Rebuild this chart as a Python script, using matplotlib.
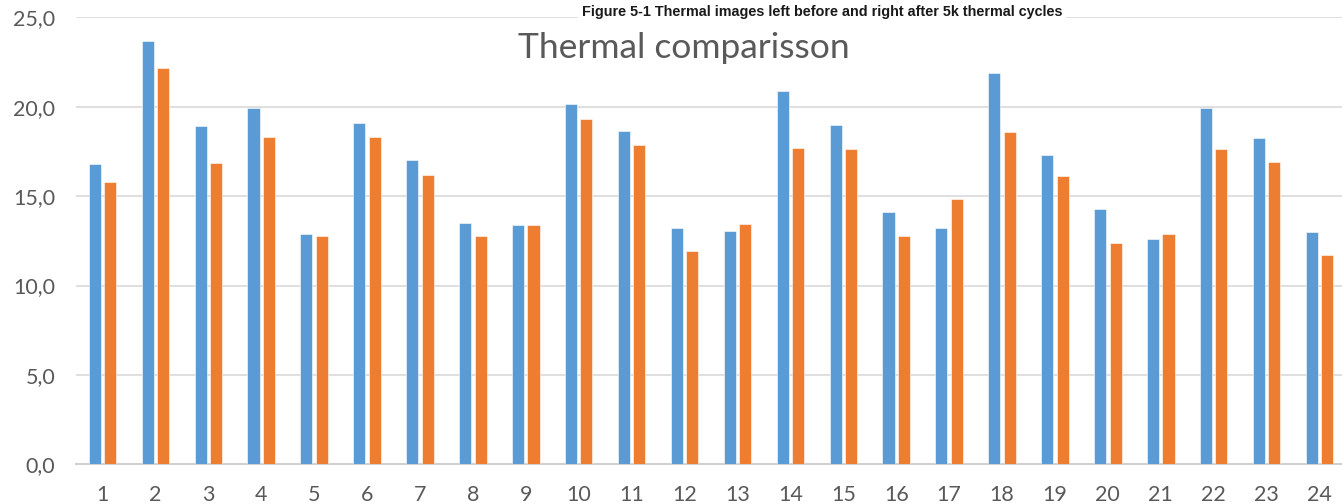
import numpy as np
import matplotlib
matplotlib.use('Agg')
import matplotlib.pyplot as plt

# values
categories = [str(i) for i in range(1, 25)]
before = [16.80, 23.67, 18.93, 19.96, 12.88, 19.08, 17.00, 13.50, 13.41, 20.17,
          18.65, 13.20, 13.03, 20.88, 18.99, 14.12, 13.24, 21.89, 17.28, 14.29,
          12.58, 19.96, 18.28, 12.98]
after = [15.81, 22.19, 16.85, 18.30, 12.75, 18.33, 16.20, 12.75, 13.39, 19.33,
         17.87, 11.91, 13.45, 17.70, 17.66, 12.79, 14.83, 18.61, 16.12, 12.40,
         12.88, 17.66, 16.91, 11.72]
y_ticks = [0, 5, 10, 15, 20, 25]

BLUE = '#5B9BD5'
ORANGE = '#ED7D31'
GREY = '#595959'


def create_plot():
    plt.rcParams['font.family'] = ['Lato', 'DejaVu Sans']
    fig = plt.figure(figsize=(13.42, 5.04), dpi=100)
    ax = fig.add_axes([76 / 1342, 39.7 / 504, 1270 / 1342, 446.8 / 504])

    x = np.arange(1, len(categories) + 1)
    w = 0.227
    off = 0.1456
    ax.bar(x - off, before, w, color=BLUE, edgecolor='white', linewidth=0.4, zorder=3)
    ax.bar(x + off, after, w, color=ORANGE, edgecolor='white', linewidth=0.4, zorder=3)

    ax.set_xlim(0.5, 24.5)
    ax.set_ylim(0, 25)
    ax.set_xticks(x)
    ax.set_xticklabels(categories)
    ax.set_yticks(y_ticks)
    ax.set_yticklabels([f'{v:.1f}'.replace('.', ',') for v in y_ticks])
    ax.tick_params(axis='both', length=0, labelsize=15.5, colors=GREY)
    ax.tick_params(axis='x', pad=15)
    ax.tick_params(axis='y', pad=15)

    ax.grid(axis='y', color='#D9D9D9', linewidth=1.2, zorder=0)
    for s in ['top', 'right', 'left']:
        ax.spines[s].set_visible(False)
    ax.spines['bottom'].set_color('#D0D0D0')
    ax.spines['bottom'].set_linewidth(1.5)

    fig.text(684 / 1342, 1 - 48 / 504, 'Thermal comparisson', ha='center', va='center',
             fontsize=25.5, color=GREY)
    fig.text(822 / 1342, 1 - 12 / 504,
             'Figure 5-1 Thermal images left before and right after 5k thermal cycles',
             ha='center', va='center', fontsize=10.4, fontweight='bold',
             color='#1a1a1a', family='Liberation Sans',
             bbox=dict(facecolor='white', edgecolor='none', pad=3))

    fig.savefig('out.png', dpi=100)


if __name__ == '__main__':
    create_plot()
